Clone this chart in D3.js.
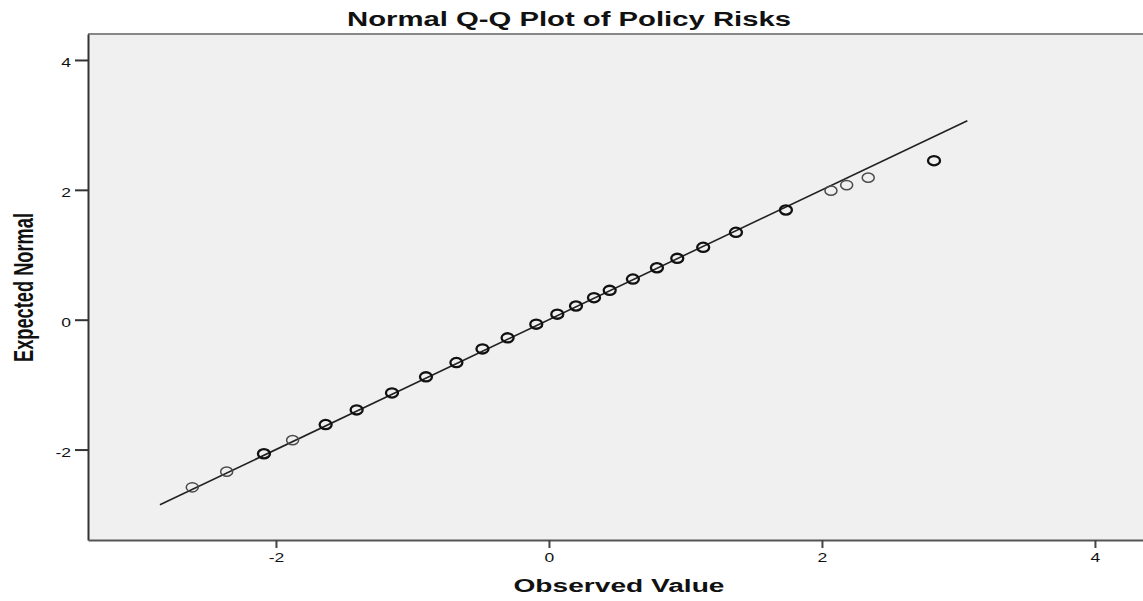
<!DOCTYPE html>
<html>
<head>
<meta charset="utf-8">
<script src="https://cdn.jsdelivr.net/npm/d3@7"></script>
<style>
  html, body { margin: 0; padding: 0; background: #ffffff; }
  svg { display: block; }
  text { font-family: "Liberation Sans", Arial, sans-serif; fill: #111; }
</style>
</head>
<body>
<svg id="chart" width="1143" height="601"></svg>
<script>
// ---- Data ----
const titleText = "Normal Q-Q Plot of Policy Risks";
const xLabel = "Observed Value";
const yLabel = "Expected Normal";
const xTicks = [-2, 0, 2, 4];
const yTicks = [-2, 0, 2, 4];
const xTickLabels = ["-2", "0", "2", "4"];
const yTickLabels = ["-2", "0", "2", "4"];
const xDomain = [-3.377, 4.352];
const yDomain = [-3.393, 4.40];
const observed = [-2.613, -2.361, -2.088, -1.878, -1.636, -1.409, -1.150, -0.901, -0.678, -0.487,
                  -0.303, -0.093, 0.061, 0.198, 0.330, 0.445, 0.615, 0.791, 0.940, 1.130,
                  1.370, 1.736, 2.066, 2.181, 2.339, 2.821];
const expected = [-2.581, -2.340, -2.065, -1.855, -1.615, -1.389, -1.128, -0.880, -0.660, -0.450,
                  -0.280, -0.069, 0.085, 0.211, 0.339, 0.452, 0.626, 0.800, 0.945, 1.115,
                  1.346, 1.689, 1.987, 2.074, 2.187, 2.449];
const tiedCount = [1, 1, 2, 1, 2, 2, 2, 2, 2, 2,
                   2, 2, 2, 2, 2, 2, 2, 2, 2, 2,
                   2, 2, 1, 1, 1, 2];
const refLineX = [-2.85, 3.065];
const refLineY = [-2.85, 3.065];

// ---- Layout ----
const svg = d3.select("#chart");
const plot = { left: 88, right: 1143, top: 34, bottom: 540 };
const sx = 1.3; // horizontal stretch of glyphs

const x = d3.scaleLinear().domain(xDomain).range([plot.left, plot.right]);
const y = d3.scaleLinear().domain(yDomain).range([plot.bottom, plot.top]);

// plot background
svg.append("rect")
  .attr("x", plot.left).attr("y", plot.top)
  .attr("width", plot.right - plot.left).attr("height", plot.bottom - plot.top)
  .attr("fill", "#f0f0f0");

// frame line (top)
svg.append("line").attr("x1", plot.left).attr("x2", plot.right)
  .attr("y1", plot.top).attr("y2", plot.top)
  .attr("stroke", "#888").attr("stroke-width", 2);

// y axis
const yAxis = d3.axisLeft(y).tickValues(yTicks).tickSize(13).tickSizeOuter(0)
  .tickFormat((d, i) => yTickLabels[i]);
const gy = svg.append("g").attr("transform", `translate(${plot.left},0)`).call(yAxis);
gy.select(".domain").attr("stroke", "#333").attr("stroke-width", 2);
gy.selectAll(".tick line").attr("stroke", "#333").attr("stroke-width", 2);
gy.selectAll(".tick text")
  .attr("x", 0).attr("dy", 0).attr("y", 0)
  .attr("text-anchor", "end")
  .attr("font-size", 13.5)
  .attr("fill", "#222")
  .attr("transform", `translate(-17,7) scale(${sx},1)`);

// x axis
const xAxis = d3.axisBottom(x).tickValues(xTicks).tickSize(8).tickSizeOuter(0)
  .tickFormat((d, i) => xTickLabels[i]);
const gx = svg.append("g").attr("transform", `translate(0,${plot.bottom})`).call(xAxis);
gx.select(".domain").attr("stroke", "#555").attr("stroke-width", 2);
gx.selectAll(".tick line").attr("stroke", "#444").attr("stroke-width", 2);
gx.selectAll(".tick text")
  .attr("y", 0).attr("dy", 0)
  .attr("text-anchor", "middle")
  .attr("font-size", 13.5)
  .attr("fill", "#222")
  .attr("transform", `translate(0,22) scale(${sx},1)`);

// reference line
const lineGen = d3.line().x(d => x(d[0])).y(d => y(d[1]));
svg.append("path")
  .datum(refLineX.map((v, i) => [v, refLineY[i]]))
  .attr("d", lineGen)
  .attr("fill", "none")
  .attr("stroke", "#222")
  .attr("stroke-width", 1.6);

// points
const pts = observed.map((v, i) => ({ x: v, y: expected[i], n: tiedCount[i] }));
svg.append("g").selectAll("ellipse")
  .data(pts)
  .join("ellipse")
  .attr("cx", d => x(d.x))
  .attr("cy", d => y(d.y))
  .attr("rx", 6)
  .attr("ry", 4.6)
  .attr("fill", "none")
  .attr("stroke", d => d.n > 1 ? "#111" : "#4a4a4a")
  .attr("stroke-width", d => d.n > 1 ? 2.3 : 1.5);

// title
svg.append("text")
  .attr("x", 347).attr("y", 26)
  .attr("font-size", 20).attr("font-weight", "bold")
  .attr("textLength", 444).attr("lengthAdjust", "spacingAndGlyphs")
  .text(titleText);

// x label
svg.append("text")
  .attr("x", 513.5).attr("y", 592)
  .attr("font-size", 18).attr("font-weight", "bold")
  .attr("textLength", 211).attr("lengthAdjust", "spacingAndGlyphs")
  .text(xLabel);

// y label (rotated)
svg.append("text")
  .attr("transform", "translate(33,362) rotate(-90)")
  .attr("x", 0).attr("y", 0)
  .attr("font-size", 27).attr("font-weight", "bold")
  .attr("textLength", 149).attr("lengthAdjust", "spacingAndGlyphs")
  .text(yLabel);
</script>
</body>
</html>
